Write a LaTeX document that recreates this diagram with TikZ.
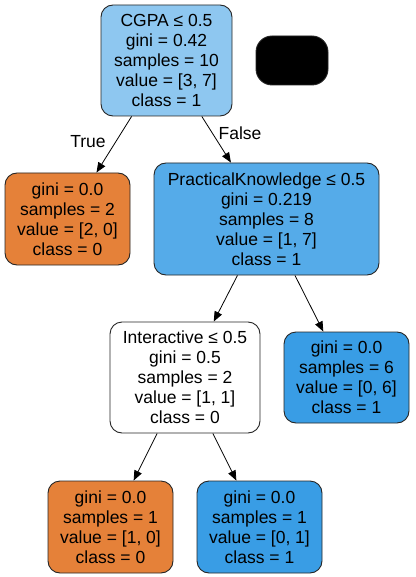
\documentclass[tikz,border=0pt]{standalone}
\usepackage{fontspec}
\setmainfont{Liberation Sans}
\usetikzlibrary{arrows.meta}
\definecolor{rootblue}{HTML}{8EC7F0}
\definecolor{midblue}{HTML}{55ABE9}
\definecolor{leafblue}{HTML}{399DE5}
\definecolor{leaforange}{HTML}{E58139}
\begin{document}
\begin{tikzpicture}[x=1pt,y=-1pt,
  box/.style={draw=black!85, line width=0.9pt, rounded corners=12pt, align=center,
    inner sep=0pt, font=\fontsize{17.5}{20}\selectfont},
  arr/.style={-{Triangle[length=10pt,width=8pt]}, line width=0.8pt},
  lbl/.style={font=\fontsize{17.5}{20}\selectfont, inner sep=0pt}]
\useasboundingbox (0,0) rectangle (415,577);
\node[box, fill=rootblue, minimum width=131pt, minimum height=111pt] (root) at (166.5,60.5)
  {CGPA ≤ 0.5\\gini = 0.42\\samples = 10\\value = [3, 7]\\class = 1};
\node[box, fill=black, rounded corners=16pt, minimum width=72pt, minimum height=49pt] (blob) at (292,60.5) {};
\node[box, fill=leaforange, minimum width=125pt, minimum height=92pt] (l1) at (67.5,219)
  {gini = 0.0\\samples = 2\\value = [2, 0]\\class = 0};
\node[box, fill=midblue, minimum width=225pt, minimum height=112pt] (pk) at (266.5,219)
  {PracticalKnowledge ≤ 0.5\\gini = 0.219\\samples = 8\\value = [1, 7]\\class = 1};
\node[box, fill=white, minimum width=150pt, minimum height=111pt] (inter) at (185,377.5)
  {Interactive ≤ 0.5\\gini = 0.5\\samples = 2\\value = [1, 1]\\class = 0};
\node[box, fill=leafblue, minimum width=125pt, minimum height=91pt] (r1) at (346.5,377.5)
  {gini = 0.0\\samples = 6\\value = [0, 6]\\class = 1};
\node[box, fill=leaforange, minimum width=125pt, minimum height=92pt] (bl) at (110.5,527)
  {gini = 0.0\\samples = 1\\value = [1, 0]\\class = 0};
\node[box, fill=leafblue, minimum width=125pt, minimum height=92pt] (br) at (259.5,527)
  {gini = 0.0\\samples = 1\\value = [0, 1]\\class = 1};
\draw[arr] (root) -- (l1);
\draw[arr] (root) -- (pk);
\draw[arr] (pk) -- (inter);
\draw[arr] (pk) -- (r1);
\draw[arr] (inter) -- (bl);
\draw[arr] (inter) -- (br);
\node[lbl] (tlab) at (88,142) {True};
\node[lbl] (flab) at (240,133) {False};
\end{tikzpicture}
\end{document}
